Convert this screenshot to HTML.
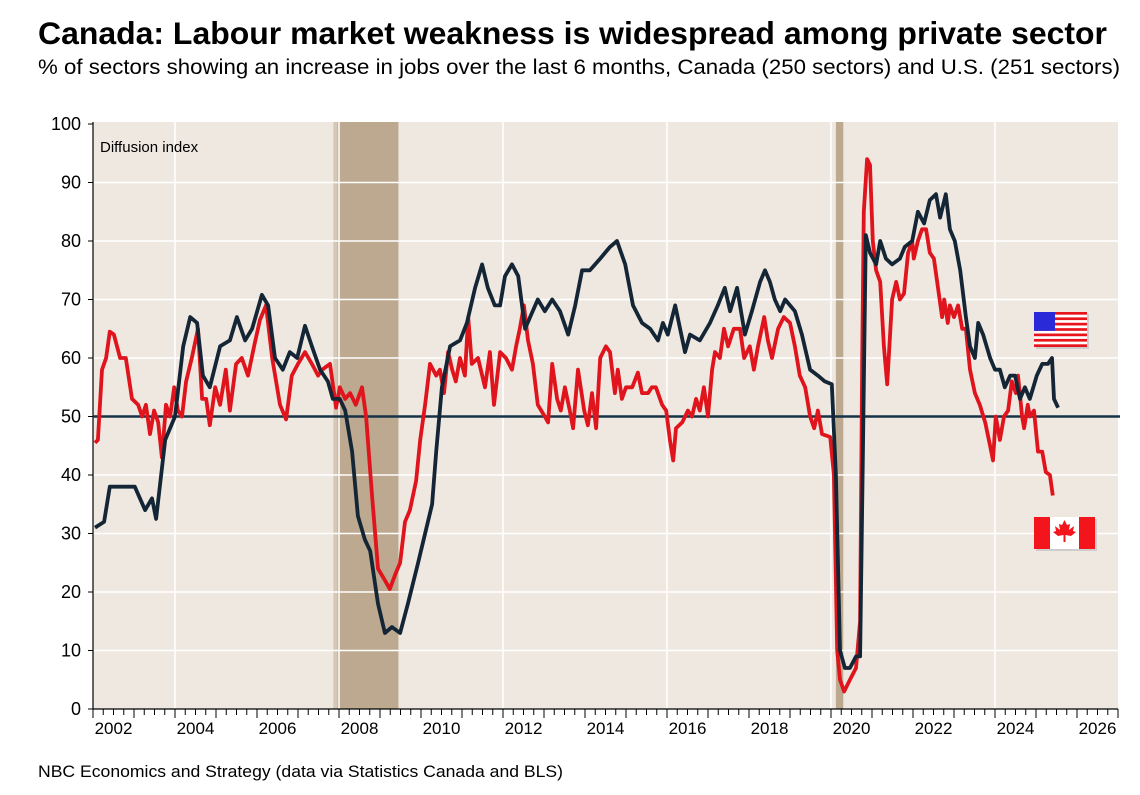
<!DOCTYPE html>
<html><head><meta charset="utf-8">
<style>
body{margin:0;background:#fff;width:1140px;height:790px;overflow:hidden;font-family:"Liberation Sans",Arial,sans-serif;}
</style></head>
<body>
<svg id="chart" width="1140" height="790" xmlns="http://www.w3.org/2000/svg" font-family="Liberation Sans, Arial, sans-serif">
<text x="38" y="44" font-size="31.5" font-weight="bold" fill="#000" textLength="1069" lengthAdjust="spacingAndGlyphs">Canada: Labour market weakness is widespread among private sector</text>
<text x="38" y="74" font-size="21" fill="#000" textLength="1082" lengthAdjust="spacingAndGlyphs">% of sectors showing an increase in jobs over the last 6 months, Canada (250 sectors) and U.S. (251 sectors)</text>
<g id="plot"></g>
<text x="38" y="777" font-size="17" fill="#000" textLength="525" lengthAdjust="spacingAndGlyphs">NBC Economics and Strategy (data via Statistics Canada and BLS)</text>
</svg>
<script>
const yTicks=[0,10,20,30,40,50,60,70,80,90,100];
const xTickYears=[2002,2004,2006,2008,2010,2012,2014,2016,2018,2020,2022,2024,2026];
const recessionStart=[2007.96,2020.12];
const recessionEnd=[2009.45,2020.3];
const usDates=[2002.05,2002.27,2002.41,2002.78,2003.02,2003.27,2003.44,2003.54,2003.63,2003.76,2004.00,2004.20,2004.37,2004.54,2004.68,2004.85,2005.10,2005.34,2005.51,2005.71,2005.88,2006.12,2006.27,2006.44,2006.63,2006.80,2006.98,2007.17,2007.34,2007.54,2007.73,2007.85,2008.02,2008.15,2008.32,2008.46,2008.63,2008.76,2008.95,2009.12,2009.29,2009.49,2009.68,2009.93,2010.10,2010.27,2010.37,2010.51,2010.71,2010.95,2011.12,2011.32,2011.49,2011.63,2011.80,2011.93,2012.05,2012.22,2012.37,2012.54,2012.66,2012.85,2013.02,2013.20,2013.39,2013.59,2013.76,2013.93,2014.12,2014.37,2014.61,2014.78,2014.98,2015.17,2015.39,2015.59,2015.78,2015.90,2016.02,2016.20,2016.32,2016.44,2016.56,2016.80,2017.05,2017.24,2017.41,2017.54,2017.71,2017.90,2018.07,2018.27,2018.39,2018.51,2018.63,2018.76,2018.88,2019.12,2019.29,2019.49,2019.68,2019.85,2020.02,2020.12,2020.22,2020.34,2020.46,2020.61,2020.71,2020.78,2020.85,2020.95,2021.10,2021.20,2021.34,2021.49,2021.68,2021.80,2021.98,2022.12,2022.27,2022.41,2022.56,2022.66,2022.80,2022.90,2023.02,2023.15,2023.29,2023.39,2023.51,2023.59,2023.71,2023.88,2024.00,2024.12,2024.24,2024.37,2024.49,2024.61,2024.73,2024.85,2025.02,2025.15,2025.29,2025.39,2025.44,2025.54];
const usValues=[31,32,38,38,38,34,36,32.5,38,46,50,62,67,66,57,55,62,63,67,63,65,70.8,69,60,58,61,60,65.5,62,58,56,53,53,51,44,33,29,27,18,13,14,13,18,25,30,35,44,55,62,63,66,72,76,72,69,69,74,76,74,65,67,70,68,70,68,64,69,75,75,77,79,80,76,69,66,65,63,66,64,69,65,61,64,63,66,69,72,68,72,64,68,73,75,73,70,68,70,68,64,58,57,56,55.5,40,10,7,7,9,9,45,81,78,76,80,77,76,77,79,80,85,83,87,88,84,88,82,80,75,67,62,60,66,64,60,58,58,55,57,57,53,55,53,57,59,59,60,53,51.5];
const caDates=[2002.05,2002.12,2002.22,2002.32,2002.41,2002.51,2002.66,2002.80,2002.95,2003.10,2003.20,2003.29,2003.39,2003.49,2003.59,2003.68,2003.78,2003.88,2003.98,2004.07,2004.17,2004.27,2004.41,2004.56,2004.66,2004.76,2004.85,2004.98,2005.10,2005.24,2005.34,2005.49,2005.63,2005.78,2005.93,2006.07,2006.22,2006.37,2006.56,2006.71,2006.85,2007.00,2007.17,2007.34,2007.49,2007.59,2007.78,2007.93,2008.02,2008.15,2008.27,2008.41,2008.56,2008.66,2008.80,2008.95,2009.12,2009.24,2009.37,2009.49,2009.61,2009.73,2009.88,2009.98,2010.10,2010.22,2010.37,2010.46,2010.56,2010.66,2010.76,2010.85,2010.95,2011.07,2011.15,2011.24,2011.39,2011.56,2011.68,2011.78,2011.93,2012.07,2012.22,2012.32,2012.41,2012.51,2012.61,2012.73,2012.85,2013.02,2013.10,2013.20,2013.32,2013.41,2013.51,2013.63,2013.71,2013.83,2013.98,2014.07,2014.17,2014.27,2014.37,2014.51,2014.61,2014.73,2014.80,2014.90,2015.00,2015.15,2015.29,2015.39,2015.54,2015.63,2015.73,2015.88,2015.98,2016.07,2016.15,2016.22,2016.37,2016.51,2016.61,2016.71,2016.80,2016.90,2017.00,2017.10,2017.17,2017.29,2017.39,2017.49,2017.63,2017.78,2017.88,2018.02,2018.12,2018.22,2018.37,2018.46,2018.56,2018.71,2018.85,2019.00,2019.12,2019.24,2019.37,2019.49,2019.59,2019.68,2019.78,2019.98,2020.07,2020.15,2020.22,2020.32,2020.46,2020.61,2020.71,2020.76,2020.80,2020.88,2020.95,2021.02,2021.10,2021.20,2021.29,2021.37,2021.49,2021.59,2021.68,2021.78,2021.88,2021.98,2022.02,2022.12,2022.22,2022.32,2022.41,2022.51,2022.61,2022.71,2022.76,2022.85,2022.90,2023.00,2023.10,2023.20,2023.29,2023.39,2023.51,2023.63,2023.76,2023.88,2023.95,2024.02,2024.12,2024.22,2024.32,2024.41,2024.51,2024.56,2024.66,2024.71,2024.80,2024.85,2024.95,2025.05,2025.15,2025.24,2025.34,2025.41];
const caValues=[45.5,46,58,60,64.5,64,60,60,53,52,50,52,47,51,49,43,52,50,55,51,50,56,60,65,53,53,48.5,55,52,58,51,59,60,57,62,66.5,69,60,52,49.5,57,59,61,59,57,58,59,51.5,55,53,54,52,55,50,37,24,22,20.5,23,25,32,34,39,46,52,59,57,58,54,61,58,56,60,57,67,59,60,55,61,52,61,60,58,62,65,69,63,59,52,50,49,59,53,51,55,51,48,58,51,48.5,54,48,60,62,61,54,58,53,55,55,57.5,54,54,55,55,52,51,46,42.5,48,49,51,50,53,51,55,50,58,61,60,65,62,65,65,60,62,58,62,67,63,60,65,67,66,62,57,55,50,48,51,47,46.5,40,10,5,3,5,7,15,60,85,94,93,80,75,73,62,55.5,70,73,70,71,78,80,77,80,82,82,78,77,72,67,70,66,69,67,69,65,65,58,54,52,49,45,42.5,50,46,50,51,56,54,57,50,48,52,50,51,44,44,40.5,40,36.5];

const NS='http://www.w3.org/2000/svg';
const L=93,R=1118,T=124,B=709;
const x=t=>L+(t-2002)*(R-L)/25;
const y=v=>B-v*(B-T)/100;
const plot=document.getElementById('plot');
function mk(tag,at){const e=document.createElementNS(NS,tag);for(const k in at)e.setAttribute(k,at[k]);plot.appendChild(e);return e;}

let bg=mk('rect',{x:L,y:T-2,width:R-L,height:B-T+2,fill:'#efe8e0'});



let lr=mk('rect',{x:x(recessionStart[0])-4,y:T-2,width:4,height:B-T+2,fill:'#d6c8b5'});


recessionStart.forEach((s,i)=>{
  let r=mk('rect',{x:x(s),y:T-2,width:x(recessionEnd[i])-x(s),height:B-T+2,fill:'#bca98f'});
  
  
});

yTicks.forEach(v=>{
  if(v>0&&v<100){let g=mk('line',{x1:L,x2:R,y1:y(v),y2:y(v),stroke:'#fff','stroke-width':1.5});
  
  }
  let tk=mk('line',{x1:L-5,x2:L,y1:y(v),y2:y(v),stroke:'#000','stroke-width':1});
  
  
  let t=mk('text',{x:L-12,y:y(v)+6,'text-anchor':'end','font-size':18,fill:'#000'});
  t.textContent=v;
  
  
});
[2004,2008,2012,2016,2020,2024].forEach(yr=>{
  let g=mk('line',{x1:x(yr),x2:x(yr),y1:T-2,y2:B,stroke:'#fff','stroke-width':1.5});
  
  
});
for(let q=0;q<=100;q++){
  const t=2002+q/4;
  let tk=mk('line',{x1:x(t),x2:x(t),y1:B,y2:B+(q%4===0?9:6),stroke:'#000','stroke-width':1});
  
  
}
xTickYears.forEach(yr=>{
  let t=mk('text',{x:x(yr+0.5),y:B+25,'text-anchor':'middle','font-size':17,fill:'#000'});
  t.textContent=yr;
  
  
});
let ax=mk('line',{x1:L,x2:L,y1:T-2,y2:B,stroke:'#000','stroke-width':1.2});


let bx=mk('line',{x1:L,x2:R,y1:B,y2:B,stroke:'#000','stroke-width':1.2});



let ref=mk('line',{x1:L,x2:R+2,y1:y(50),y2:y(50),stroke:'#163247','stroke-width':2.5});



function line(d,v,col,name){
  const p=d.map((t,i)=>(i?'L':'M')+x(t).toFixed(1)+' '+y(v[i]).toFixed(1)).join(' ');
  let e=mk('path',{d:p,fill:'none',stroke:col,'stroke-width':3.8,'stroke-linejoin':'round'});
  
  
}
line(caDates,caValues,'#e0141c','canada-series');
line(usDates,usValues,'#142636','us-series');

let lab=mk('text',{x:100,y:152,'font-size':15,fill:'#000'});
lab.textContent='Diffusion index';



let us=mk('g',{});


const fx=1034,fy=312,fw=53,fh=35;
us.appendChild(mk('rect',{x:fx+2,y:fy+2,width:fw,height:fh,fill:'#ccc'}));
us.appendChild(mk('rect',{x:fx,y:fy,width:fw,height:fh,fill:'#fff'}));
for(let i=0;i<7;i++){us.appendChild(mk('rect',{x:fx,y:fy+i*fh/6.5,width:fw,height:fh/13,fill:'#e8141c'}));}
us.appendChild(mk('rect',{x:fx,y:fy,width:21,height:fh*7/13,fill:'#2a2ad8'}));
let ca=mk('g',{});


const cx=1034,cy=517;
ca.appendChild(mk('rect',{x:cx+2,y:cy+2,width:61,height:32,fill:'#ccc'}));
ca.appendChild(mk('rect',{x:cx,y:cy,width:61,height:32,fill:'#fff'}));
ca.appendChild(mk('rect',{x:cx,y:cy,width:16,height:32,fill:'#f4141c'}));
ca.appendChild(mk('rect',{x:cx+45,y:cy,width:16,height:32,fill:'#f4141c'}));
ca.appendChild(mk('path',{d:'M1064.5 520 L1067 525 L1070 524 L1069 530 L1074 526 L1073 531 L1076 532 L1071 536 L1065.5 535 L1065.5 542 L1063.5 542 L1063.5 535 L1058 536 L1053 532 L1056 531 L1055 526 L1060 530 L1059 524 L1062 525 Z',fill:'#f4141c'}));
</script>
</body></html>
